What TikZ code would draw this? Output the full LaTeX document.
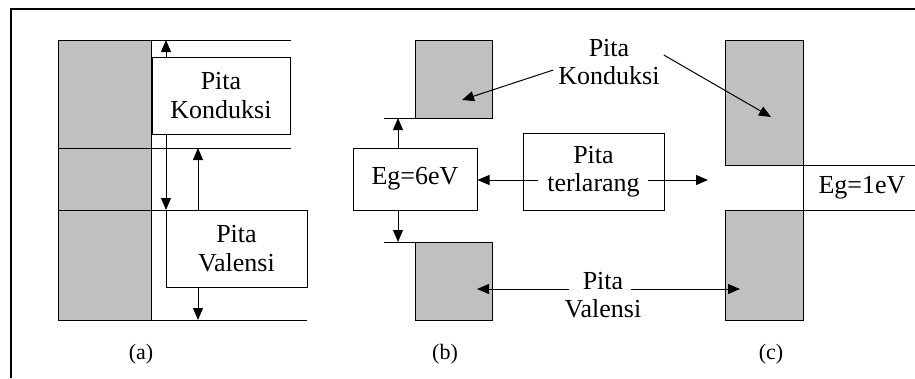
\documentclass[tikz,border=0pt]{standalone}
\usepackage{fontspec}
\setmainfont{Liberation Serif}
\definecolor{bandgray}{HTML}{C0C0C0}
\usetikzlibrary{arrows.meta, calc, positioning}
\newcommand{\bandfont}{\fontsize{26}{28.5}\selectfont}
\newcommand{\capfont}{\fontsize{22}{24}\selectfont}
\tikzset{
   band/.style={draw, fill=bandgray, line width=1pt},
   edge/.style={line width=1pt},
   box/.style={draw, fill=white, line width=1pt, align=center, font=\bandfont},
   txt/.style={align=center, inner sep=0pt, font=\bandfont},
   arr/.style={-{Triangle[length=12pt,width=10pt]}, line width=1pt}
}

\begin{document}
\begin{tikzpicture}[x=1pt, y=-1pt]
            \useasboundingbox (0,0) rectangle (915,378);
            % Frame
            \draw[line width=1.2pt] (11,378) -- (11,9) -- (915,9);
            % (a) overlapping bands
            \draw[band] (58,40) rectangle (151,320);
            \draw[edge] (151,40) -- (291,40) (151,148) -- (291,148)
               (151,210) -- (307,210) (151,320) -- (307,320);
            \draw[edge] (58,148) -- (151,148) (58,210) -- (151,210);
            \node[box, minimum width=138pt, minimum height=77pt] (kondA) at (221,95.5) {Pita\\Konduksi};
            \node[box, minimum width=141pt, minimum height=77pt] (valA) at (236.5,248.5) {Pita\\Valensi};
            \coordinate (aTop) at (166,40);
            \coordinate (aMid) at (166,210);
            \coordinate (aGap) at (198,148);
            \coordinate (aBot) at (198,320);
            \draw[arr] (kondA.north -| aTop) -- (aTop);
            \draw[arr] (kondA.south -| aMid) -- (aMid);
            \draw[arr] (valA.north -| aGap) -- (aGap);
            \draw[arr] (valA.south -| aBot) -- (aBot);
            % (b) wide gap
            \draw[band] (415,40) rectangle (492,118);
            \draw[edge] (384,118) -- (415,118);
            \draw[band] (415,242) rectangle (492,320);
            \draw[edge] (384,242) -- (415,242);
            % (c) narrow gap
            \draw[band] (725,40) rectangle (803,165);
            \draw[band] (725,210) rectangle (803,320);
            \draw[edge] (915,165) -- (803,165) -- (803,210) -- (915,210);
            \node[txt] (egC) at (862,187.5) {Eg=1eV};
            % gap boxes
            \node[box, minimum width=124pt, minimum height=62pt] (egB) at (415,179) {Eg=6eV};
            \coordinate (bTop) at (398,118);
            \coordinate (bBot) at (398,242);
            \draw[arr] (egB.north -| bTop) -- (bTop);
            \draw[arr] (egB.south -| bBot) -- (bBot);
            \node[box, minimum width=141pt, minimum height=77pt] (terB) at (593.5,171.5) {Pita\\terlarang};
            \coordinate (terL) at (538,180);
            \coordinate (terR) at (648,180);
            \coordinate (cGap) at (708,180);
            \draw[arr] (terL) -- (egB.east |- terL);
            \draw[arr] (terR) -- (cGap);
            % shared labels
            \node[txt] (kondL) at (609,62) {Pita\\Konduksi};
            \coordinate (bKond) at (462,100);
            \coordinate (cKond) at (771,117);
            \draw[arr] ([shift={(-5,8)}]kondL.west) -- (bKond);
            \draw[arr] ([shift={(4,-7)}]kondL.east) -- (cKond);
            \node[txt] (valL) at (603,295) {Pita\\Valensi};
            \coordinate (bVal) at (477,289);
            \coordinate (cVal) at (740,289);
            \draw[arr] ([shift={(4.5,-6)}]valL.west) -- (bVal);
            \draw[arr] ([shift={(-10.5,-6)}]valL.east) -- (cVal);
            % captions
            \node[font=\capfont] (capA) at (141,354) {(a)};
            \node[font=\capfont] (capB) at (445,354) {(b)};
            \node[font=\capfont] (capC) at (771,354) {(c)};
\end{tikzpicture}
\end{document}
